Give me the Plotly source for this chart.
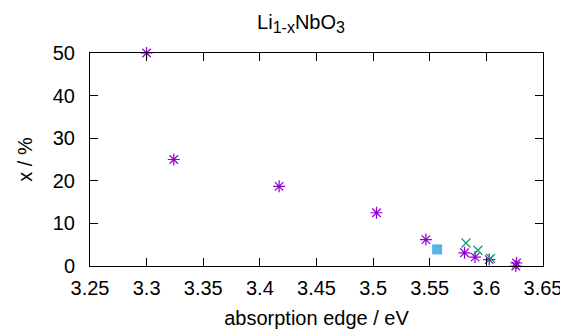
import plotly.graph_objects as go

# data
purple_x = [3.300, 3.324, 3.417, 3.503, 3.5466, 3.5807, 3.590, 3.6025, 3.6266, 3.626]
purple_y = [50.0, 25.0, 18.7, 12.5, 6.2, 3.1, 2.1, 1.5, 0.7, 0.0]
green_x = [3.582, 3.5925, 3.6037]
green_y = [5.4, 3.7, 1.8]
blue_x = [3.5565]
blue_y = [3.9]

x_ticks = [3.25, 3.30, 3.35, 3.40, 3.45, 3.50, 3.55, 3.60, 3.65]
x_ticktext = ["3.25", "3.3", "3.35", "3.4", "3.45", "3.5", "3.55", "3.6", "3.65"]
y_ticks = [0, 10, 20, 30, 40, 50]

FONT = "Liberation Sans, Arial, Helvetica, sans-serif"

# page body has an 8px margin, so the figure is sized to fit the 568x330 window
W, H = 560, 322

fig = go.Figure()
fig.add_trace(go.Scatter(x=purple_x, y=purple_y, mode="markers", cliponaxis=False,
                         marker=dict(symbol="asterisk-open", size=10, color="#9400d3",
                                     line=dict(color="#9400d3", width=1.2))))
fig.add_trace(go.Scatter(x=green_x, y=green_y, mode="markers", cliponaxis=False,
                         marker=dict(symbol="x-thin-open", size=9, color="#009e73",
                                     line=dict(color="#009e73", width=1.2))))
fig.add_trace(go.Scatter(x=blue_x, y=blue_y, mode="markers", cliponaxis=False,
                         marker=dict(symbol="square", size=10, color="#56b4e9",
                                     line=dict(width=0))))

axis_common = dict(showline=True, linecolor="black", linewidth=1, mirror="ticks",
                   ticks="inside", ticklen=8, tickcolor="black", tickwidth=1,
                   showgrid=False, zeroline=False, automargin=False,
                   tickfont=dict(family=FONT, size=20, color="black"))

title_text = ("Li<sub><span style='font-size:16px'>1-x</span></sub>"
              "NbO<sub><span style='font-size:16px'>3</span></sub>")

fig.update_layout(
    width=W, height=H,
    margin=dict(l=82, r=25, t=45, b=64, autoexpand=False),
    paper_bgcolor="white", plot_bgcolor="white",
    showlegend=False,
    font=dict(family=FONT, color="black"),
    title=dict(text=title_text, x=(293 - 82) / 453, xref="paper",
               xanchor="center", y=1 - 14 / H, yanchor="middle", automargin=False,
               font=dict(family=FONT, size=20, color="black")),
    xaxis=dict(range=[3.25, 3.65], tickvals=x_ticks, ticktext=x_ticktext,
               ticklabelstandoff=4,
               title=dict(text="absorption edge / eV", font=dict(family=FONT, size=20), standoff=12),
               **axis_common),
    yaxis=dict(range=[0, 50], tickvals=y_ticks, ticklabelstandoff=10,
               title=dict(text="x / %", font=dict(family=FONT, size=20), standoff=14),
               **axis_common),
)

fig.write_html("out.html")
